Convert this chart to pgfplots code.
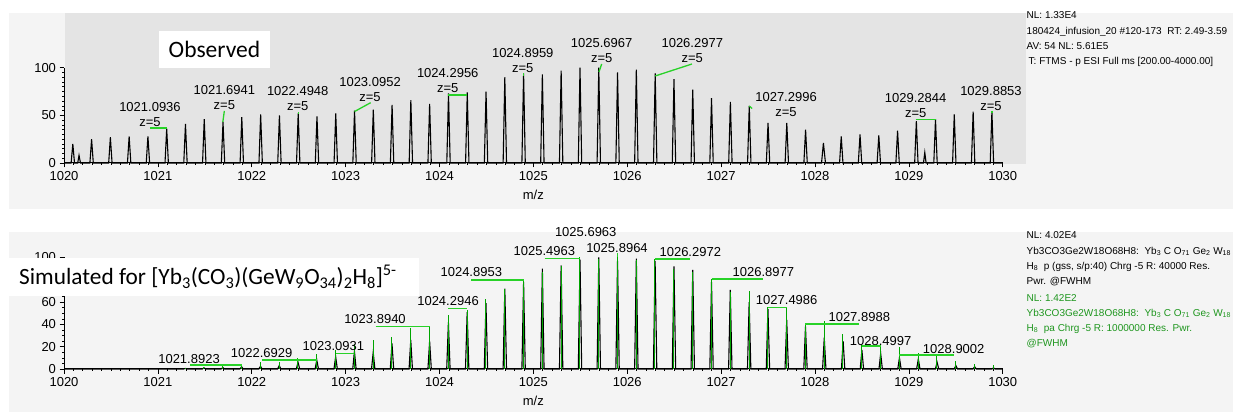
\documentclass[border=0pt]{standalone}
\usepackage{pgfplots}
\pgfplotsset{compat=1.18}
\usepackage{fontspec}
\setmainfont{Liberation Sans}
\newfontfamily\calfont{Carlito}
\definecolor{panelgray}{RGB}{244,244,244}
\definecolor{plotgray}{RGB}{228,228,228}
\definecolor{lblgreen}{RGB}{40,210,40}
\definecolor{stickgreen}{RGB}{0,165,0}
\definecolor{txtgreen}{RGB}{30,150,30}
\tikzset{
  lbl/.style={font=\fontsize{13}{15}\selectfont, align=center, inner sep=0pt},
  con/.style={draw=lblgreen, line width=1.3pt},
}
\pgfplotsset{
  msaxis/.style={
    scale only axis, width=938.7pt,
    xmin=1020, xmax=1030, ymin=0, ymax=100,
    axis x line*=bottom, axis y line*=left,
    axis line style={-, black, line width=1pt},
    tick align=outside, major tick length=4.5pt, minor tick length=2pt,
    tick style={black, line width=0.6pt},
    xtick distance=1, minor x tick num=9,
    /pgf/number format/1000 sep={},
    /pgf/number format/assume math mode=true,
    tick label style={font=\fontsize{13}{15}\selectfont},
    label style={font=\fontsize{13}{15}\selectfont},
    xlabel={m/z},
    xlabel style={at={(axis description cs:0.5,0)}, anchor=center, yshift=-32pt},
    clip=false,
  },
}
\begin{document}
\begin{tikzpicture}
\fill[white] (0pt,0pt) rectangle (1233pt,412pt);
\fill[panelgray] (9pt,203pt) rectangle (1233pt,399.3pt);
\fill[plotgray] (65pt,248pt) rectangle (1026pt,399.3pt);
\fill[panelgray] (9pt,0pt) rectangle (1233pt,180pt);

% ---------------- Observed ----------------
\begin{axis}[msaxis, at={(64pt,249pt)}, anchor=south west, height=95.3pt,
  ytick={0,50,100}, minor y tick num=9]
\addplot[black, line width=1.1pt] coordinates {
(1020,0)
(1020.076,0)(1020.094,20)(1020.112,0)
(1020.146,0)(1020.160,8)(1020.176,0)
(1020.276,0)(1020.294,25)(1020.312,0)
(1020.476,0)(1020.494,27)(1020.512,0)
(1020.676,0)(1020.694,28)(1020.712,0)
(1020.876,0)(1020.894,28)(1020.912,0)
(1021.076,0)(1021.094,36)(1021.112,0)
(1021.276,0)(1021.294,41)(1021.312,0)
(1021.476,0)(1021.494,46)(1021.512,0)
(1021.676,0)(1021.694,43)(1021.712,0)
(1021.876,0)(1021.894,48)(1021.912,0)
(1022.077,0)(1022.095,51)(1022.113,0)
(1022.277,0)(1022.295,50)(1022.313,0)
(1022.477,0)(1022.495,52)(1022.513,0)
(1022.677,0)(1022.695,49)(1022.713,0)
(1022.877,0)(1022.895,52)(1022.913,0)
(1023.077,0)(1023.095,55)(1023.113,0)
(1023.277,0)(1023.295,56)(1023.313,0)
(1023.477,0)(1023.495,61)(1023.513,0)
(1023.677,0)(1023.695,66)(1023.713,0)
(1023.877,0)(1023.895,62)(1023.913,0)
(1024.078,0)(1024.096,73)(1024.114,0)
(1024.278,0)(1024.296,74)(1024.314,0)
(1024.478,0)(1024.496,75)(1024.514,0)
(1024.678,0)(1024.696,90)(1024.714,0)
(1024.878,0)(1024.896,94)(1024.914,0)
(1025.078,0)(1025.096,93)(1025.114,0)
(1025.278,0)(1025.296,97)(1025.314,0)
(1025.479,0)(1025.497,100)(1025.515,0)
(1025.679,0)(1025.697,100)(1025.715,0)
(1025.879,0)(1025.897,95)(1025.915,0)
(1026.079,0)(1026.097,98)(1026.115,0)
(1026.280,0)(1026.298,94)(1026.316,0)
(1026.480,0)(1026.498,88)(1026.516,0)
(1026.680,0)(1026.698,77)(1026.716,0)
(1026.880,0)(1026.898,68)(1026.916,0)
(1027.081,0)(1027.099,64)(1027.117,0)
(1027.282,0)(1027.300,60)(1027.318,0)
(1027.482,0)(1027.500,42)(1027.518,0)
(1027.682,0)(1027.700,42)(1027.718,0)
(1027.882,0)(1027.900,35)(1027.918,0)
(1028.070,0)(1028.090,21)(1028.112,0)
(1028.262,0)(1028.280,28)(1028.298,0)
(1028.462,0)(1028.480,30)(1028.498,0)
(1028.662,0)(1028.680,29)(1028.698,0)
(1028.862,0)(1028.880,34)(1028.898,0)
(1029.062,0)(1029.080,44)(1029.098,0)
(1029.156,0)(1029.170,11)(1029.184,0)
(1029.266,0)(1029.284,46)(1029.302,0)
(1029.466,0)(1029.484,51)(1029.502,0)
(1029.667,0)(1029.685,54)(1029.703,0)
(1029.867,0)(1029.885,54)(1029.903,0)
(1030,0)
};
\node[lbl] at (axis cs:1020.916,50.9) {1021.0936\\z=5};
\draw[con] (axis cs:1020.916,36.7) -- (axis cs:1021.093,36.7);
\node[lbl] at (axis cs:1021.708,68.7) {1021.6941\\z=5};
\draw[con] (axis cs:1021.708,54.6) -- (axis cs:1021.692,43);
\node[lbl] at (axis cs:1022.490,67.5) {1022.4948\\z=5};
\draw[con] (axis cs:1022.495,53.5) -- (axis cs:1022.495,51.5);
\node[lbl] at (axis cs:1023.260,77.6) {1023.0952\\z=5};
\draw[con] (axis cs:1023.267,63.3) -- (axis cs:1023.095,54);
\node[lbl] at (axis cs:1024.088,86.9) {1024.2956\\z=5};
\draw[con] (axis cs:1024.088,71.4) -- (axis cs:1024.296,71.4);
\node[lbl] at (axis cs:1024.887,107.9) {1024.8959\\z=5};
\draw[con] (axis cs:1024.896,94.5) -- (axis cs:1024.896,91);
\node[lbl] at (axis cs:1025.728,117.7) {1025.6967\\z=5};
\draw[con] (axis cs:1025.728,103.9) -- (axis cs:1025.699,95.5);
\node[lbl] at (axis cs:1026.693,117.7) {1026.2977\\z=5};
\draw[con] (axis cs:1026.690,103.9) -- (axis cs:1026.298,91.3);
\node[lbl] at (axis cs:1027.692,61.7) {1027.2996\\z=5};
\draw[con] (axis cs:1027.300,59.8) -- (axis cs:1027.330,57.2);
\node[lbl] at (axis cs:1029.073,60) {1029.2844\\z=5};
\draw[con] (axis cs:1029.073,45.4) -- (axis cs:1029.284,45.4);
\node[lbl] at (axis cs:1029.875,67.5) {1029.8853\\z=5};
\draw[con] (axis cs:1029.885,54.6) -- (axis cs:1029.885,52.5);
\end{axis}

% ---------------- Simulated ----------------
\begin{axis}[msaxis, at={(64pt,43pt)}, anchor=south west, height=111.5pt,
  ytick={0,20,40,60,80,100}, yticklabels={0,20,40,60,,100}, minor y tick num=3]
\addplot[black, line width=1.1pt] coordinates {
(1020,0)
(1021.274,0)(1021.292,0.5)(1021.310,0)
(1021.474,0)(1021.492,1)(1021.510,0)
(1021.674,0)(1021.692,1.3)(1021.710,0)
(1021.874,0)(1021.892,2)(1021.910,0)
(1022.075,0)(1022.093,2.5)(1022.111,0)
(1022.275,0)(1022.293,3)(1022.311,0)
(1022.475,0)(1022.493,6)(1022.511,0)
(1022.675,0)(1022.693,8)(1022.711,0)
(1022.876,0)(1022.894,11)(1022.912,0)
(1023.076,0)(1023.094,16)(1023.112,0)
(1023.276,0)(1023.294,15)(1023.312,0)
(1023.476,0)(1023.494,23)(1023.512,0)
(1023.676,0)(1023.694,26)(1023.712,0)
(1023.877,0)(1023.895,25)(1023.913,0)
(1024.077,0)(1024.095,42)(1024.113,0)
(1024.277,0)(1024.295,51)(1024.313,0)
(1024.477,0)(1024.495,59)(1024.513,0)
(1024.678,0)(1024.696,72)(1024.714,0)
(1024.878,0)(1024.896,78)(1024.914,0)
(1025.078,0)(1025.096,90)(1025.114,0)
(1025.278,0)(1025.296,93)(1025.314,0)
(1025.479,0)(1025.497,98)(1025.515,0)
(1025.679,0)(1025.697,100)(1025.715,0)
(1025.879,0)(1025.897,97)(1025.915,0)
(1026.079,0)(1026.097,99)(1026.115,0)
(1026.279,0)(1026.297,97)(1026.315,0)
(1026.480,0)(1026.498,92)(1026.516,0)
(1026.680,0)(1026.698,89)(1026.716,0)
(1026.880,0)(1026.898,78)(1026.916,0)
(1027.080,0)(1027.098,71)(1027.116,0)
(1027.281,0)(1027.299,60)(1027.317,0)
(1027.481,0)(1027.499,54)(1027.517,0)
(1027.681,0)(1027.699,44)(1027.717,0)
(1027.881,0)(1027.899,38)(1027.917,0)
(1028.081,0)(1028.099,28)(1028.117,0)
(1028.282,0)(1028.300,25)(1028.318,0)
(1028.482,0)(1028.500,17)(1028.518,0)
(1028.682,0)(1028.700,14)(1028.718,0)
(1028.882,0)(1028.900,10)(1028.918,0)
(1029.083,0)(1029.101,9)(1029.119,0)
(1029.283,0)(1029.301,6)(1029.319,0)
(1029.483,0)(1029.501,3)(1029.519,0)
(1029.683,0)(1029.701,2)(1029.719,0)
(1029.884,0)(1029.902,1)(1029.920,0)
(1030,0)
};
\addplot[ycomb, stickgreen, line width=0.9pt, mark=none] coordinates {
(1021.290,0.5)(1021.490,1.5)(1021.690,2.5)(1021.890,4)(1022.091,6.5)
(1022.291,6)(1022.491,10)(1022.691,13.5)(1022.892,17)(1023.092,22)
(1023.292,26)(1023.492,29)(1023.692,36.5)(1023.893,38.6)(1024.093,48)
(1024.293,53)(1024.493,63)(1024.694,72)(1024.894,79)(1025.094,87)
(1025.294,92)(1025.495,100)(1025.695,99)(1025.895,100)(1026.095,98)
(1026.295,99)(1026.496,90)(1026.696,87)(1026.896,81)(1027.096,69)
(1027.297,70)(1027.497,56)(1027.697,56)(1027.897,41)(1028.097,43)
(1028.298,31)(1028.498,21.5)(1028.698,22)(1028.898,20)(1029.099,14)
(1029.299,13)(1029.499,7)(1029.699,4.5)(1029.900,3.5)
};
\node[lbl] at (axis cs:1021.332,8.7) {1021.8923};
\draw[con] (axis cs:1021.342,3.6) -- (axis cs:1021.892,3.6);
\node[lbl] at (axis cs:1022.106,14.1) {1022.6929};
\draw[con] (axis cs:1022.106,8.1) -- (axis cs:1022.693,8.1);
\node[lbl] at (axis cs:1022.869,20.6) {1023.0931};
\draw[con] (axis cs:1022.894,14.1) -- (axis cs:1023.094,14.1);
\node[lbl] at (axis cs:1023.313,44.6) {1023.8940};
\draw[con] (axis cs:1023.320,37.9) -- (axis cs:1023.895,37.9);
\node[lbl] at (axis cs:1024.091,61.3) {1024.2946};
\draw[con] (axis cs:1024.091,54.4) -- (axis cs:1024.295,54.4);
\node[lbl] at (axis cs:1024.339,86.7) {1024.8953};
\draw[con] (axis cs:1024.340,79.8) -- (axis cs:1024.896,79.8);
\node[lbl] at (axis cs:1025.117,105.8) {1025.4963};
\draw[con] (axis cs:1025.120,99.3) -- (axis cs:1025.497,99.3);
\node[lbl] at (axis cs:1025.558,123.1) {1025.6963};
\node[lbl] at (axis cs:1025.891,108.8) {1025.8964};
\draw[con] (axis cs:1025.897,103.8) -- (axis cs:1025.897,100.4);
\node[lbl] at (axis cs:1026.672,104.7) {1026.2972};
\draw[con] (axis cs:1026.297,98.7) -- (axis cs:1026.670,98.7);
\node[lbl] at (axis cs:1027.450,87.3) {1026.8977};
\draw[con] (axis cs:1026.898,80.7) -- (axis cs:1027.445,80.7);
\node[lbl] at (axis cs:1027.699,61.9) {1027.4986};
\draw[con] (axis cs:1027.499,55) -- (axis cs:1027.699,55);
\node[lbl] at (axis cs:1028.472,46.9) {1027.8988};
\draw[con] (axis cs:1027.899,40.4) -- (axis cs:1028.470,40.4);
\node[lbl] at (axis cs:1028.700,25.4) {1028.4997};
\draw[con] (axis cs:1028.500,20.6) -- (axis cs:1028.700,20.6);
\node[lbl] at (axis cs:1029.478,17.7) {1028.9002};
\draw[con] (axis cs:1028.900,12.6) -- (axis cs:1029.478,12.6);
\end{axis}

% ---------------- boxes and side texts ----------------
\fill[white] (159pt,344pt) rectangle (270pt,381pt);
\node[anchor=base, inner sep=0pt, font=\calfont\fontsize{23.5}{26}\selectfont] at (214.5pt,354.7pt) {Observed};
\fill[white] (9pt,116pt) rectangle (419pt,154pt);
\node[anchor=base west, inner sep=0pt, font=\calfont\fontsize{23.3}{26}\selectfont] at (19pt,127pt)
  {Simulated for [Yb\textsubscript{3}(CO\textsubscript{3})(GeW\textsubscript{9}O\textsubscript{34})\textsubscript{2}H\textsubscript{8}]\textsuperscript{5-}};

\begin{scope}[every node/.style={anchor=base west, inner sep=0pt, font=\fontsize{10}{12}\selectfont}]
\node at (1026.5pt,393.1pt) {NL: 1.33E4};
\node at (1026.5pt,377.7pt) {180424\_infusion\_20 \#120-173\ \ RT: 2.49-3.59};
\node at (1026.5pt,362.4pt) {AV: 54 NL: 5.61E5};
\node at (1028.5pt,347.1pt) {T: FTMS - p ESI Full ms [200.00-4000.00]};
\node at (1026.5pt,173.4pt) {NL: 4.02E4};
\node at (1026.5pt,157.7pt) {Yb3CO3Ge2W18O68H8:\ \ Yb\textsubscript{3} C O\textsubscript{71} Ge\textsubscript{2} W\textsubscript{18}};
\node at (1026.5pt,142.7pt) {H\textsubscript{8}\ \ p (gss, s/p:40) Chrg -5 R: 40000 Res.};
\node at (1026.5pt,127.7pt) {Pwr. @FWHM};
\node[text=txtgreen] at (1026.5pt,110.7pt) {NL: 1.42E2};
\node[text=txtgreen] at (1026.5pt,95.7pt) {Yb3CO3Ge2W18O68H8:\ \ Yb\textsubscript{3} C O\textsubscript{71} Ge\textsubscript{2} W\textsubscript{18}};
\node[text=txtgreen] at (1026.5pt,80.7pt) {H\textsubscript{8}\ \ pa Chrg -5 R: 1000000 Res. Pwr.};
\node[text=txtgreen] at (1026.5pt,65.7pt) {@FWHM};
\end{scope}
\end{tikzpicture}
\end{document}
